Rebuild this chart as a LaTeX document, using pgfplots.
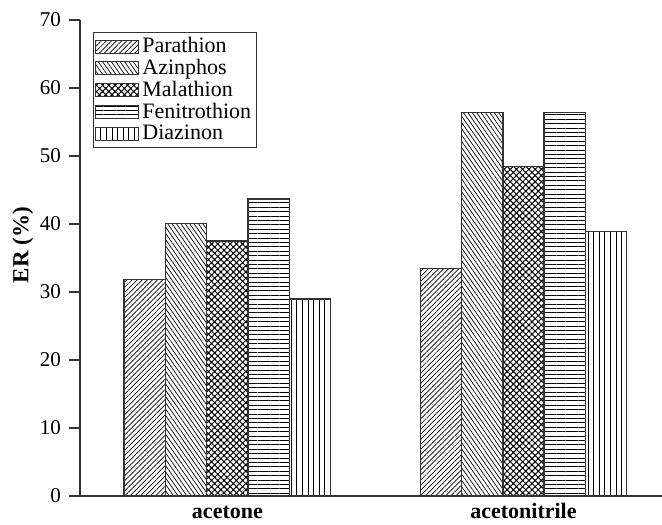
\documentclass[border=0pt]{standalone}
\usepackage{fontspec}
\setmainfont{Liberation Serif}
\usepackage{pgfplots}
\pgfplotsset{compat=1.18}
\usetikzlibrary{patterns.meta}
\definecolor{ink}{HTML}{333333}
\begin{document}
\begin{tikzpicture}
\path[use as bounding box] (-40pt,-14pt) rectangle (291pt,248pt);
\begin{axis}[
  at={(0,0)}, anchor=south west,
  scale only axis, width=291pt, height=238pt,
  xmin=-0.498, xmax=1.468, ymin=0, ymax=70,
  axis x line*=bottom, axis y line*=left,
  axis line style={line width=0.7pt, color=ink},
  ytick={0,10,...,70},
  xtick={0,1}, xticklabels={acetone,acetonitrile},
  xtick style={draw=none},
  ytick style={line width=0.6pt, color=ink},
  tick align=outside, major tick length=5.5pt,
  yticklabel style={font=\fontsize{10.5}{12}\selectfont, xshift=-0.5pt},
  xticklabel style={font=\fontsize{11}{13}\selectfont\bfseries, text height=8pt, text depth=0pt, inner sep=0pt, anchor=north, yshift=2.5pt},
  /pgf/number format/assume math mode=true,
  ylabel={ER (\%)},
  ylabel style={font=\fontsize{11.5}{13}\selectfont\bfseries, at={(axis description cs:-0.098,0.527)}, anchor=center},
  ybar=0pt, bar width=20.65pt,
  legend style={at={(0.022,0.975)}, anchor=north west, draw=ink, line width=0.6pt,
    font=\fontsize{11}{13}\selectfont, inner sep=1pt, row sep=-1.2pt,
    nodes={inner sep=1.5pt}},
  legend cell align=left,
  legend image code/.code={\draw[#1, line width=0.5pt] (0pt,-3.25pt) rectangle (21.5pt,3.25pt);},
  every axis plot/.append style={draw=ink, line width=0.7pt},
]
\addplot[pattern={Lines[angle=45,distance=1.8pt,line width=0.35pt]}] coordinates {(0,31.8) (1,33.5)};
\addplot[pattern={Lines[angle=-55,distance=1.8pt,line width=0.35pt]}] coordinates {(0,40.1) (1,56.4)};
\addplot[pattern={Hatch[angle=45,distance=2.2pt,line width=0.5pt]}] coordinates {(0,37.5) (1,48.5)};
\addplot[pattern={Lines[angle=0,distance=2.2pt,line width=0.4pt]}] coordinates {(0,43.7) (1,56.4)};
\addplot[pattern={Lines[angle=90,distance=2.8pt,line width=0.4pt]}] coordinates {(0,29.0) (1,38.9)};
\legend{Parathion,Azinphos,Malathion,Fenitrothion,Diazinon}
\end{axis}
\end{tikzpicture}
\end{document}
